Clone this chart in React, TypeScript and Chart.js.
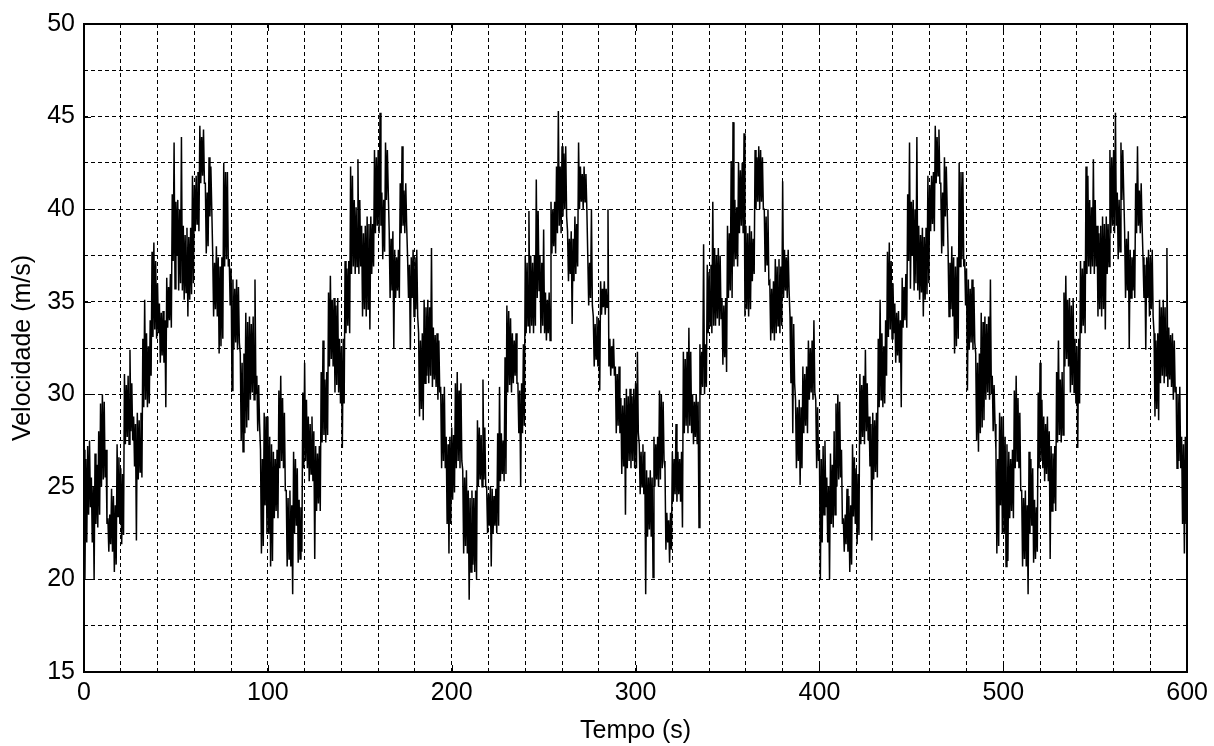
import React, { useEffect, useRef } from "react";
import { Chart, registerables } from "chart.js";

Chart.register(...registerables);

// ---- axes / labels -------------------------------------------------------
const X_TITLE = "Tempo (s)";
const Y_TITLE = "Velocidade (m/s)";
const X_MIN = 0;
const X_MAX = 600;
const X_GRID_STEP = 20;
const X_LABEL_STEP = 100;
const Y_MIN = 15;
const Y_MAX = 50;
const Y_GRID_STEP = 2.5;
const Y_LABEL_STEP = 5;
const SECOND = 1;

// ---- velocity readings (m/s) -----------------------------------------------
// For every second: the highest (…_MAX) and the lowest (…_MIN) value the
// dense trace reaches in that second.
// 0–99 s
const A_MAX = [
  27, 26.5, 27.2, 27.5, 25.5, 25, 26.8, 26.2, 28, 29.5,
  30, 29.6, 27, 23.3, 23.5, 24.9, 24.5, 24, 27.3, 26.6,
  26, 25.7, 31.1, 30.5, 31, 32.4, 30.6, 28.8, 28.4, 29,
  28.6, 29, 33, 35.1, 33.3, 32.6, 34, 37.7, 38.2, 37.2,
  36, 34.9, 34.4, 34.5, 34, 36.3, 35.8, 36.5, 40.8, 43.6,
  40.4, 40.5, 40, 43.9, 39.1, 38.6, 39, 38.5, 39, 41.8,
  41.3, 41.8, 42, 44.5, 43.9, 44.3, 41.4, 40.9, 42.8, 42.3,
  37.6, 37.1, 38, 37.4, 36.9, 37.4, 42.5, 42, 42, 37.3,
  36.8, 36.2, 35.7, 36.2, 35.8, 32.2, 31.7, 32.2, 34.4, 33.9,
  34.2, 33.8, 34.2, 36.2, 31, 30.5, 27, 26.5, 29, 28.8,
];
const A_MIN = [
  20, 22, 23.5, 23.9, 22, 20, 23, 22.8, 23.5, 25,
  25.4, 25.5, 23, 21.5, 21.9, 21.5, 20.4, 20.8, 23.4, 23,
  21.9, 22.4, 27.3, 27.7, 27.3, 28, 27.5, 26.1, 22.1, 25.4,
  25.8, 25.5, 29.3, 29.7, 29.3, 29.5, 31, 33.1, 33.5, 33,
  33.3, 31.7, 32.1, 31.7, 29.3, 33.6, 34, 33.6, 37.2, 35.7,
  37.5, 35.6, 36, 35.6, 35.1, 35.5, 34.2, 35.1, 35.4, 36,
  38.8, 39.2, 38.8, 41.4, 41.8, 41.4, 37.6, 38, 39.6, 40,
  34.2, 34.6, 34.2, 32.2, 32.6, 33, 36.9, 37.3, 36.9, 34.8,
  30.2, 32.4, 32.8, 32.4, 32.8, 27.5, 26.9, 27.9, 28.2, 28.6,
  29.7, 30.1, 29.7, 30, 28, 28.4, 21.4, 21.8, 24, 22.5,
];
// 100–199 s
const B_MAX = [
  28.8, 27.7, 27.3, 26.9, 26.5, 27, 30.2, 31, 29.8, 29,
  24.8, 24.4, 24.8, 24, 26.9, 26.5, 26, 24.3, 23.9, 30.1,
  31.7, 29.7, 28.8, 28.4, 28.8, 28, 27.2, 26.8, 27.2, 31.2,
  32.9, 30.8, 31.2, 35.5, 36.4, 35.1, 35.2, 34.8, 35.2, 33,
  32.6, 33, 37.2, 36.8, 37.2, 42.3, 41.8, 40.5, 40.1, 42.7,
  40.5, 39.1, 38.7, 39.1, 39.6, 39.2, 39.6, 39.2, 43.2, 42.8,
  43.2, 45.2, 40.9, 40.5, 43.6, 43.2, 38.8, 38.4, 38.8, 37.8,
  37.4, 37.8, 41.4, 43.4, 41, 41.4, 37.4, 37, 37.4, 37.8,
  37.4, 37.8, 33.3, 32.9, 33.3, 35.1, 34.7, 35.1, 34.7, 37.9,
  33.6, 33.2, 33.3, 32.9, 30.4, 30, 30.4, 27.7, 27.3, 27.7,
];
const B_MIN = [
  22.5, 20.7, 21, 23.3, 23.7, 23.3, 26, 26.4, 26, 24.8,
  20.7, 21.1, 20.7, 19.2, 22.5, 22.9, 20.9, 21.1, 21.5, 26,
  26.4, 26, 25.3, 25.7, 25.3, 21.1, 23.7, 24.1, 23.7, 27.4,
  27.8, 27.4, 27.8, 31.5, 31.9, 31.5, 30.1, 30.5, 30.1, 29.5,
  27.1, 29.5, 33.3, 33.7, 33.3, 36.5, 36.9, 36.5, 36.9, 36.5,
  36.9, 34.2, 34.6, 34.2, 34.6, 33.5, 36.5, 36.9, 38.7, 39.1,
  38.7, 39.1, 37.3, 37.7, 40.5, 40.9, 35.2, 35.6, 32.5, 35.2,
  35.6, 35.2, 38.7, 39.1, 38.7, 39.1, 35.2, 32.4, 35.2, 34.2,
  34.6, 34.2, 28.8, 29.2, 28.6, 30.6, 31, 30.6, 31, 30.4,
  30.8, 30.4, 29.7, 30.1, 26, 26.4, 26, 23, 21.4, 23,
];
// 200–299 s
const C_MAX = [
  28.2, 27.8, 30.6, 31.2, 30.2, 30.6, 25.9, 25.5, 25.9, 24.8,
  24.4, 24.8, 24.4, 24.8, 28.6, 28.2, 27.8, 30.8, 28.2, 25,
  24.6, 25, 24.9, 24.5, 24.9, 27.9, 30.4, 27.9, 27.5, 32,
  34.8, 34.5, 34.1, 33.3, 32.9, 33.3, 30.6, 30.2, 30.6, 32.7,
  37.5, 37.1, 39.9, 37.5, 37.1, 37.5, 41.6, 39.9, 37.5, 37.1,
  38.9, 35.5, 35.1, 35.5, 40.4, 40, 40.4, 42.3, 45.3, 42.3,
  43.4, 43, 43.4, 38.8, 38.4, 38.8, 38.4, 39.6, 39.2, 43.6,
  42.3, 41.9, 42.3, 41.9, 37.5, 37.1, 40, 34.2, 33.8, 34.2,
  34, 36.1, 35.7, 36.1, 35.7, 40, 33, 32.6, 33, 31.5,
  31.1, 31.5, 29.8, 29.4, 29.8, 30.3, 29.9, 30.3, 29.9, 30.3,
];
const C_MIN = [
  24.3, 24.7, 26, 26.4, 26, 26.4, 21.4, 21.8, 21.4, 18.9,
  20.4, 20.8, 20.4, 20, 25, 25.4, 25, 25.4, 25, 22.5,
  22.9, 20.7, 22.5, 22.9, 22.5, 22.9, 25.3, 25.7, 25.3, 25.7,
  30.1, 30.5, 30.1, 30.6, 31, 30.6, 27.9, 25, 27.9, 28.3,
  33.3, 33.7, 33.3, 33.7, 33.3, 33.7, 35.2, 35.6, 33.3, 33.7,
  33.3, 32.9, 33.3, 32.9, 37.6, 38, 37.6, 38.7, 39.1, 38.7,
  39.6, 40, 39.6, 36.1, 36.5, 33.8, 36.1, 36.5, 36.9, 40,
  40.4, 40, 40.4, 40, 34.8, 35.2, 34.8, 31.5, 31.9, 31.5,
  30.2, 34.3, 34.7, 34.3, 34.7, 31.5, 31, 31.4, 31, 27.9,
  28.3, 27.9, 25.7, 26.1, 23.5, 26, 26.4, 26, 26.4, 26,
];
// 300–399 s
const D_MAX = [
  30.6, 32.3, 27.3, 26.9, 27.3, 26.9, 25.9, 25.5, 25.9, 25.5,
  27.7, 27.3, 27.7, 30.2, 30, 29.6, 26, 23.6, 23.2, 23.6,
  26.9, 26.5, 28.4, 26.9, 26.5, 26.9, 32.3, 31.9, 32.3, 33.6,
  32.3, 30, 29.6, 30, 29.6, 32.7, 32.3, 38.1, 32.7, 37,
  36.6, 37, 40.4, 37.9, 37.5, 37.9, 37.5, 35.2, 34.8, 35.2,
  39.1, 38.7, 42.6, 44.7, 40.5, 40.1, 42.5, 42.1, 42.5, 44.1,
  39.1, 38.7, 39.1, 38.8, 38.4, 43.2, 42.8, 43.4, 43.2, 42.8,
  40, 39.6, 40, 36.1, 35.7, 36.1, 37.3, 36.9, 37.3, 36.9,
  41.5, 37.8, 37.4, 37.8, 34.2, 34.2, 33.8, 29.7, 29.3, 29.7,
  29.3, 31.5, 31.1, 31.5, 32.9, 32.5, 32.9, 34, 29.7, 29.3,
];
const D_MIN = [
  26, 27.9, 24.6, 25, 24.6, 19.2, 22.3, 22.7, 22.3, 20.1,
  25, 25.4, 25, 25.4, 26, 26.4, 21.6, 22, 20.9, 21.6,
  24.2, 24.6, 24.2, 24.6, 24.2, 22.8, 27.9, 28.3, 27.9, 28.3,
  27.9, 27.3, 27.7, 27.3, 22.8, 30, 30.4, 30, 30.4, 33.3,
  33.7, 33.3, 33.7, 33.7, 34.1, 33.7, 34.1, 31.6, 32, 31.2,
  35.2, 35.6, 35.2, 36.9, 37.3, 36.9, 38.7, 39.1, 38.7, 34.2,
  34.6, 34.2, 34.6, 36.1, 36.5, 40, 40.4, 40, 40.4, 40,
  36.6, 37, 36, 32.9, 33.3, 32.9, 33.3, 33.7, 33.3, 33.7,
  35.2, 35.6, 35.2, 35.6, 30.6, 27.9, 30.6, 26, 26.4, 25.1,
  26, 27.9, 28.3, 27.9, 29.7, 30.1, 29.7, 30.1, 26, 26.4,
];
// 400–499 s and 500–599 s repeat 0–99 s and 100–199 s exactly in the picture
const SEGMENTS = [
  { max: A_MAX, min: A_MIN }, // 0–99 s
  { max: B_MAX, min: B_MIN }, // 100–199 s
  { max: C_MAX, min: C_MIN }, // 200–299 s
  { max: D_MAX, min: D_MIN }, // 300–399 s
  { max: A_MAX, min: A_MIN }, // 400–499 s
  { max: B_MAX, min: B_MIN }, // 500–599 s
];
const LAST_VALUE = [24]; // at 600 s

// ---- styling ---------------------------------------------------------------
const W = 1214;
const H = 746;
const AREA = { left: 84, right: 1189, top: 24, bottom: 672 };
const FONT_FAMILY = "'Liberation Sans', Arial, Helvetica, sans-serif";
const FONT_SIZE = 25;
const TICK_LEN = 7;

const framePlugin = {
  id: "matlabFrame",
  afterDraw(chart: any) {
    const { ctx, chartArea, scales } = chart;
    const { left, right, top, bottom } = chartArea;
    ctx.save();
    ctx.setLineDash([]);
    ctx.strokeStyle = "#000";
    ctx.lineWidth = 1;
    ctx.beginPath();
    for (let v = X_MIN; v <= X_MAX; v += X_LABEL_STEP) {
      const px = Math.round(scales.x.getPixelForValue(v)) + 0.5;
      ctx.moveTo(px, bottom);
      ctx.lineTo(px, bottom - TICK_LEN);
      ctx.moveTo(px, top);
      ctx.lineTo(px, top + TICK_LEN);
    }
    for (let v = Y_MIN; v <= Y_MAX; v += Y_LABEL_STEP) {
      const py = Math.round(scales.y.getPixelForValue(v)) + 0.5;
      ctx.moveTo(left, py);
      ctx.lineTo(left + TICK_LEN, py);
      ctx.moveTo(right, py);
      ctx.lineTo(right - TICK_LEN, py);
    }
    ctx.stroke();
    ctx.lineWidth = 2;
    ctx.strokeRect(Math.round(left), Math.round(top), Math.round(right - left), Math.round(bottom - top));
    ctx.restore();
  },
};

export default function App() {
  const canvasRef = useRef<HTMLCanvasElement | null>(null);

  useEffect(() => {
    const canvas = canvasRef.current;
    if (!canvas) return;

    const points: { x: number; y: number }[] = [];
    SEGMENTS.forEach((seg, k) => {
      seg.max.forEach((hi, i) => {
        const t = (k * seg.max.length + i) * SECOND;
        points.push({ x: t, y: hi });
        points.push({ x: t + SECOND / 2, y: seg.min[i] });
      });
    });
    LAST_VALUE.forEach((v) => points.push({ x: X_MAX, y: v }));

    const chart = new Chart(canvas, {
      type: "line",
      data: {
        datasets: [
          {
            data: points,
            borderColor: "#000",
            borderWidth: 1.5,
            pointRadius: 0,
            tension: 0,
            fill: false,
          },
        ],
      },
      plugins: [framePlugin],
      options: {
        animation: false,
        responsive: false,
        maintainAspectRatio: false,
        devicePixelRatio: 1,
        parsing: false as any,
        layout: { padding: { top: AREA.top, right: W - AREA.right, left: 0, bottom: 0 } },
        plugins: {
          legend: { display: false },
          tooltip: { enabled: false },
        },
        scales: {
          x: {
            type: "linear",
            min: X_MIN,
            max: X_MAX,
            afterFit: (s: any) => {
              s.height = H - AREA.bottom;
            },
            border: { display: false, dash: [4, 3] },
            grid: { color: "#000", lineWidth: 1, drawTicks: false },
            ticks: {
              stepSize: X_GRID_STEP,
              autoSkip: false,
              maxRotation: 0,
              padding: 6,
              color: "#000",
              font: { family: FONT_FAMILY, size: FONT_SIZE },
              callback: (value: any) => (Number(value) % X_LABEL_STEP === 0 ? String(value) : ""),
            },
            title: {
              display: true,
              text: X_TITLE,
              color: "#000",
              font: { family: FONT_FAMILY, size: FONT_SIZE, lineHeight: 1 },
              padding: { top: 0, bottom: 2 },
            },
          },
          y: {
            type: "linear",
            min: Y_MIN,
            max: Y_MAX,
            afterFit: (s: any) => {
              s.width = AREA.left;
            },
            border: { display: false, dash: [4, 3] },
            grid: { color: "#000", lineWidth: 1, drawTicks: false },
            ticks: {
              stepSize: Y_GRID_STEP,
              autoSkip: false,
              padding: 9,
              color: "#000",
              font: { family: FONT_FAMILY, size: FONT_SIZE },
              callback: (value: any) => (Number(value) % Y_LABEL_STEP === 0 ? String(value) : ""),
            },
            title: {
              display: true,
              text: Y_TITLE,
              color: "#000",
              font: { family: FONT_FAMILY, size: FONT_SIZE, lineHeight: 1 },
              padding: { top: 11, bottom: 0 },
            },
          },
        },
      },
    });
    return () => chart.destroy();
  }, []);

  return (
    <div style={{ position: "absolute", left: 0, top: 0, width: W, height: H, background: "#fff" }}>
      <canvas ref={canvasRef} width={W} height={H} style={{ display: "block" }} />
    </div>
  );
}
